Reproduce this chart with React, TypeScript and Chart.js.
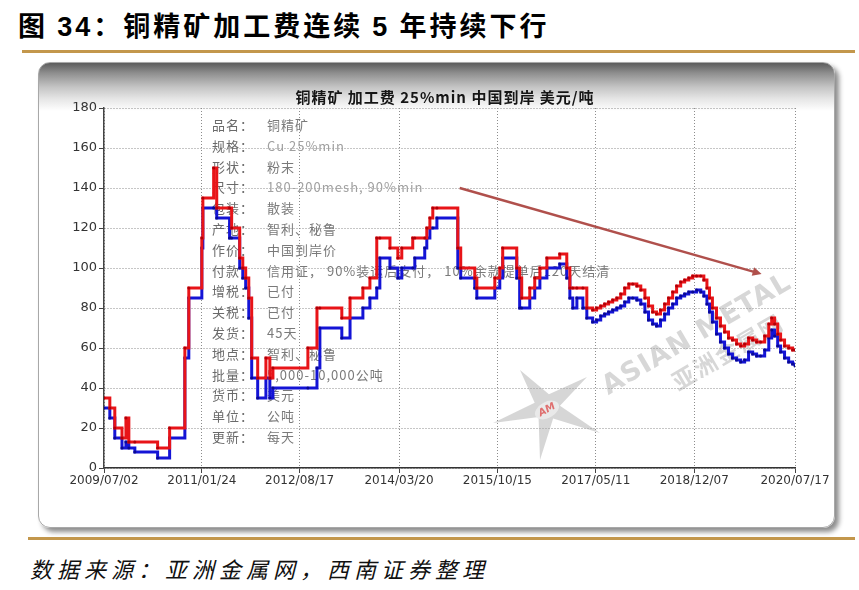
import React, { useEffect, useRef } from "react";
import { Chart, registerables } from "chart.js";

Chart.register(...registerables);

// x-axis tick labels (dates)
const TICK_DATES = [
  "2009/07/02",
  "2011/01/24",
  "2012/08/17",
  "2014/03/20",
  "2015/10/15",
  "2017/05/11",
  "2018/12/07",
  "2020/07/17",
];

// dates where the quote changes
const DATES = [
  "2009-07-02", "2009-08-05", "2009-09-03", "2009-10-15", "2009-11-07", "2009-11-24",
  "2009-12-29", "2010-05-11", "2010-07-20", "2010-10-17", "2010-11-09", "2011-01-24",
  "2011-01-30", "2011-04-03", "2011-04-21", "2011-07-05", "2011-07-17", "2011-09-02",
  "2011-09-20", "2011-10-07", "2011-10-25", "2011-11-11", "2011-12-16", "2012-02-02",
  "2012-02-25", "2012-03-14", "2012-10-04", "2012-11-26", "2012-12-13", "2013-04-20",
  "2013-06-07", "2013-08-21", "2013-10-01", "2013-11-10", "2013-11-28", "2014-01-26",
  "2014-03-13", "2014-04-05", "2014-06-08", "2014-06-20", "2014-08-17", "2014-08-29",
  "2014-09-16", "2014-10-03", "2014-10-27", "2015-02-26", "2015-03-15", "2015-06-05",
  "2015-06-17", "2015-09-30", "2015-10-29", "2015-11-15", "2016-02-05", "2016-02-22",
  "2016-03-05", "2016-04-21", "2016-05-20", "2016-06-19", "2016-07-30", "2016-10-13",
  "2016-11-23", "2016-12-11", "2016-12-28", "2017-01-21", "2017-02-25", "2017-03-20",
  "2017-04-23", "2017-05-16", "2017-06-09", "2017-07-02", "2017-07-25", "2017-08-18",
  "2017-09-11", "2017-10-04", "2017-10-27", "2017-11-20", "2017-12-13", "2018-01-06",
  "2018-01-29", "2018-02-22", "2018-03-15", "2018-04-08", "2018-05-01", "2018-05-24",
  "2018-06-17", "2018-07-10", "2018-08-03", "2018-08-26", "2018-09-19", "2018-10-12",
  "2018-11-05", "2018-11-28", "2018-12-21", "2019-01-14", "2019-02-01", "2019-02-19",
  "2019-03-06", "2019-03-23", "2019-04-16", "2019-05-09", "2019-06-02", "2019-06-25",
  "2019-07-18", "2019-08-11", "2019-09-04", "2019-09-27", "2019-10-20", "2019-11-13",
  "2019-12-06", "2019-12-29", "2020-01-22", "2020-02-15", "2020-03-03", "2020-03-20",
  "2020-04-07", "2020-04-24", "2020-05-17", "2020-06-10", "2020-07-03", "2020-07-17",
];

// high end of the range (red)
const HIGH = [
  35, 30, 20, 15, 25, 13,
  13, 10, 20, 60, 90, 115,
  135, 150, 130, 130, 120, 105,
  100, 95, 85, 55, 45, 55,
  45, 50, 60, 80, 80, 75,
  85, 90, 95, 115, 115, 110,
  105, 110, 115, 115, 115, 120,
  125, 130, 130, 110, 100, 95,
  90, 95, 100, 110, 100, 95,
  85, 90, 95, 100, 105, 107,
  100, 90, 90, 90, 90, 80,
  79, 80, 81, 82, 83, 84,
  85, 87, 90, 92, 92, 91,
  89, 85, 81, 78, 77, 79,
  82, 85, 88, 91, 93, 94,
  95, 96, 96, 96, 94, 90,
  85, 80, 75, 71, 68, 65,
  64, 62, 61, 62, 65, 64,
  63, 63, 66, 72, 75, 72,
  67, 64, 61, 60, 59, 59,
];

// low end of the range (blue)
const LOW = [
  30, 25, 15, 10, 13, 10,
  8, 5, 15, 55, 85, 110,
  130, 130, 125, 115, 115, 100,
  95, 90, 75, 45, 35, 45,
  35, 40, 40, 50, 70, 65,
  75, 80, 85, 90, 105, 100,
  95, 100, 100, 105, 110, 115,
  120, 120, 125, 100, 95, 90,
  85, 90, 95, 105, 95, 80,
  80, 85, 90, 95, 100, 102,
  95, 85, 80, 85, 80, 75,
  73, 74, 76, 77, 78, 79,
  80, 81, 83, 85, 85, 84,
  82, 78, 74, 72, 71, 74,
  77, 80, 82, 85, 86, 87,
  88, 88, 89, 88, 86, 82,
  78, 73, 67, 63, 60, 57,
  55, 54, 53, 54, 58, 57,
  56, 56, 59, 65, 69, 66,
  61, 58, 55, 53, 52, 51,
];

// product info box
const INFO_LABELS = [
  "品名：", "规格：", "形状：", "尺寸：", "包装：", "产地：", "作价：", "付款：",
  "增税：", "关税：", "发货：", "地点：", "批量：", "货币：", "单位：", "更新：",
];
const INFO_VALUES = [
  "铜精矿", "Cu 25%min", "粉末", "180-200mesh, 90%min", "散装", "智利、秘鲁", "中国到岸价",
  "信用证， 90%装运后支付， 10%余款提单后120天结清",
  "已付", "已付", "45天", "智利、秘鲁", "5,000-10,000公吨", "美元", "公吨", "每天",
];

// trend arrow (start, end)
const ARROW_DATES = ["2015-03-09", "2020-01-04"];
const ARROW_VALUES = [140, 97];

const CHART_TITLE = "铜精矿 加工费 25%min 中国到岸 美元/吨";

const dayNum = (s: string) => {
  const [y, m, d] = s.split(/[-/]/).map(Number);
  return Date.UTC(y, m - 1, d) / 86400000;
};

const cjk = '"Noto Sans CJK SC", "DejaVu Sans", sans-serif';

const overlayPlugin = {
  id: "overlay",
  beforeDatasetsDraw: (chart: Chart) => {
    const ctx = chart.ctx;
    const ca = chart.chartArea;
    ctx.save();

    // watermark star
    const cx = ca.left + 443;
    const cy = ca.top + 299;
    const outer = [
      [-27, -37],
      [40, -30],
      [53, 26],
      [-7, 53],
      [-54, 16],
    ];
    ctx.beginPath();
    outer.forEach((p, i) => {
      const a1 = Math.atan2(p[1], p[0]);
      const q = outer[(i + 1) % outer.length];
      let a2 = Math.atan2(q[1], q[0]);
      if (a2 < a1) a2 += Math.PI * 2;
      const am = (a1 + a2) / 2;
      if (i === 0) ctx.moveTo(cx + p[0], cy + p[1]);
      else ctx.lineTo(cx + p[0], cy + p[1]);
      ctx.lineTo(cx + Math.cos(am) * 13, cy + Math.sin(am) * 13);
    });
    ctx.closePath();
    ctx.fillStyle = "rgba(165,165,165,0.45)";
    ctx.fill();

    ctx.translate(cx, cy + 3);
    ctx.rotate(-0.5);
    ctx.beginPath();
    ctx.ellipse(0, 0, 13, 8, 0, 0, Math.PI * 2);
    ctx.fillStyle = "rgba(235,235,235,0.9)";
    ctx.fill();
    ctx.fillStyle = "rgba(220,80,80,0.8)";
    ctx.font = "bold italic 10px 'DejaVu Sans'";
    ctx.textAlign = "center";
    ctx.textBaseline = "middle";
    ctx.fillText("AM", 0, 0);
    ctx.setTransform(chart.currentDevicePixelRatio, 0, 0, chart.currentDevicePixelRatio, 0, 0);

    // watermark text
    ctx.translate(ca.left + 593, ca.top + 227);
    ctx.rotate(-0.53);
    ctx.fillStyle = "rgba(150,150,150,0.38)";
    ctx.font = "bold 27px 'DejaVu Sans'";
    (ctx as any).letterSpacing = "1px";
    ctx.fillText("ASIAN METAL", 0, 0);
    ctx.font = "bold 23px " + cjk;
    (ctx as any).letterSpacing = "2px";
    ctx.fillText("亚洲金属网", 18, 30);
    ctx.setTransform(chart.currentDevicePixelRatio, 0, 0, chart.currentDevicePixelRatio, 0, 0);

    // info text
    ctx.textAlign = "left";
    ctx.textBaseline = "middle";
    ctx.font = "13px " + cjk;
    (ctx as any).letterSpacing = "1px";
    INFO_LABELS.forEach((label, i) => {
      const y = ca.top + 17 + i * 20.8;
      ctx.fillStyle = "#6a6a6a";
      ctx.fillText(label, ca.left + 108, y);
      ctx.fillStyle = /^[\x00-\x7f]+$/.test(INFO_VALUES[i]) ? "#a0a0a0" : "#7a7a7a";
      ctx.fillText(INFO_VALUES[i], ca.left + 163, y);
    });
    (ctx as any).letterSpacing = "0px";
    ctx.restore();
  },
  afterDatasetsDraw: (chart: Chart) => {
    const ctx = chart.ctx;
    const xs = chart.scales.x;
    const ys = chart.scales.y;
    const x1 = xs.getPixelForValue(dayNum(ARROW_DATES[0]));
    const y1 = ys.getPixelForValue(ARROW_VALUES[0]);
    const x2 = xs.getPixelForValue(dayNum(ARROW_DATES[1]));
    const y2 = ys.getPixelForValue(ARROW_VALUES[1]);
    const ang = Math.atan2(y2 - y1, x2 - x1);
    ctx.save();
    ctx.strokeStyle = "#B0504C";
    ctx.fillStyle = "#B0504C";
    ctx.lineWidth = 2.5;
    ctx.beginPath();
    ctx.moveTo(x1, y1);
    ctx.lineTo(x2 - Math.cos(ang) * 6, y2 - Math.sin(ang) * 6);
    ctx.stroke();
    ctx.beginPath();
    ctx.moveTo(x2, y2);
    ctx.lineTo(x2 - Math.cos(ang - 0.45) * 10, y2 - Math.sin(ang - 0.45) * 10);
    ctx.lineTo(x2 - Math.cos(ang + 0.45) * 10, y2 - Math.sin(ang + 0.45) * 10);
    ctx.closePath();
    ctx.fill();

    // chart title
    const ca = chart.chartArea;
    ctx.fillStyle = "#151515";
    ctx.font = "bold 15px " + cjk;
    (ctx as any).letterSpacing = "1px";
    ctx.textAlign = "center";
    ctx.textBaseline = "middle";
    ctx.fillText(CHART_TITLE, ca.left + 341, ca.top - 11);
    (ctx as any).letterSpacing = "0px";
    ctx.restore();
  },
};

const App: React.FC = () => {
  const canvasRef = useRef<HTMLCanvasElement>(null);

  useEffect(() => {
    if (!canvasRef.current) return;
    const ctx = canvasRef.current.getContext("2d");
    if (!ctx) return;

    const series = (values: number[]) =>
      values.map((v, i) => ({ x: dayNum(DATES[i]), y: v }));

    const chart = new Chart(ctx, {
      type: "line",
      data: {
        datasets: [
          {
            label: "高",
            data: series(HIGH),
            borderColor: "#E81418",
            borderWidth: 3,
            stepped: true,
            pointRadius: 1.5,
            pointBorderWidth: 0,
            pointBackgroundColor: "#B00008",
            fill: false,
          },
          {
            label: "低",
            data: series(LOW),
            borderColor: "#1414D6",
            borderWidth: 3,
            stepped: true,
            pointRadius: 1.5,
            pointBorderWidth: 0,
            pointBackgroundColor: "#0A0A90",
            fill: false,
          },
        ],
      },
      options: {
        responsive: true,
        maintainAspectRatio: false,
        animation: false,
        layout: { padding: { left: 0, right: 40, top: 46, bottom: 30 } },
        plugins: {
          legend: { display: false },
          tooltip: { enabled: false },
          title: { display: false },
        },
        scales: {
          x: {
            type: "linear",
            min: dayNum(TICK_DATES[0]),
            max: dayNum(TICK_DATES[TICK_DATES.length - 1]),
            afterBuildTicks: (scale: any) => {
              scale.ticks = TICK_DATES.map((d) => ({ value: dayNum(d) }));
            },
            afterFit: (scale: any) => {
              scale.height = 30;
            },
            ticks: {
              autoSkip: false,
              maxRotation: 0,
              padding: 1,
              color: "#333",
              font: { family: "DejaVu Sans", size: 12 },
              callback: (_v: any, i: number) => TICK_DATES[i],
            },
            grid: {
              color: "#8c8c8c",
              lineWidth: 1,
              tickLength: 5,
              tickColor: "#444",
            },
            border: { display: true, color: "#333", width: 1.5, dash: [1, 2] },
          },
          y: {
            min: 0,
            max: 180,
            afterFit: (scale: any) => {
              scale.width = 66;
            },
            ticks: {
              stepSize: 20,
              padding: 2,
              color: "#333",
              font: { family: "DejaVu Sans", size: 13 },
            },
            grid: {
              color: "#8c8c8c",
              lineWidth: 1,
              tickLength: 5,
              tickColor: "#444",
            },
            border: { display: true, color: "#444", width: 1.5, dash: [1, 2] },
          },
        },
      },
      plugins: [overlayPlugin],
    });

    return () => {
      chart.destroy();
    };
  }, []);

  return (
    <div
      style={{
        position: "absolute",
        left: 0,
        top: 0,
        width: 859,
        height: 590,
        background: "#fff",
        overflow: "hidden",
        fontFamily: cjk,
      }}
    >
      <div
        style={{
          position: "absolute",
          left: 18,
          top: 6,
          fontSize: 27,
          fontWeight: 700,
          lineHeight: "38px",
          letterSpacing: 3,
          color: "#000",
          whiteSpace: "nowrap",
        }}
      >
        图 <span style={{ fontFamily: "Liberation Sans" }}>34</span>：铜精矿加工费连续{" "}
        <span style={{ fontFamily: "Liberation Sans" }}>5</span> 年持续下行
      </div>
      <div
        style={{
          position: "absolute",
          left: 22,
          top: 50,
          width: 833,
          height: 3,
          background: "#C3974C",
        }}
      />
      <div
        style={{
          position: "absolute",
          left: 38,
          top: 62,
          width: 795,
          height: 464,
          borderRadius: 12,
          border: "1px solid #a8a8a8",
          background:
            "linear-gradient(to bottom, #5c5c5c 0px, #8e8e8e 10px, #c4c4c4 24px, #e6e6e6 36px, #ffffff 48px, #ffffff 100%)",
          boxShadow: "4px 4px 5px rgba(0,0,0,0.45)",
        }}
      />
      <div
        style={{
          position: "absolute",
          left: 38,
          top: 62,
          width: 797,
          height: 466,
        }}
      >
        <canvas ref={canvasRef} />
      </div>
      <div
        style={{
          position: "absolute",
          left: 28,
          top: 537,
          width: 827,
          height: 3,
          background: "#C3974C",
        }}
      />
      <div
        style={{
          position: "absolute",
          left: 30,
          top: 553,
          fontSize: 22,
          fontStyle: "italic",
          lineHeight: "30px",
          letterSpacing: 5,
          color: "#111",
          whiteSpace: "nowrap",
        }}
      >
        数据来源：亚洲金属网，西南证券整理
      </div>
    </div>
  );
};

export default App;
